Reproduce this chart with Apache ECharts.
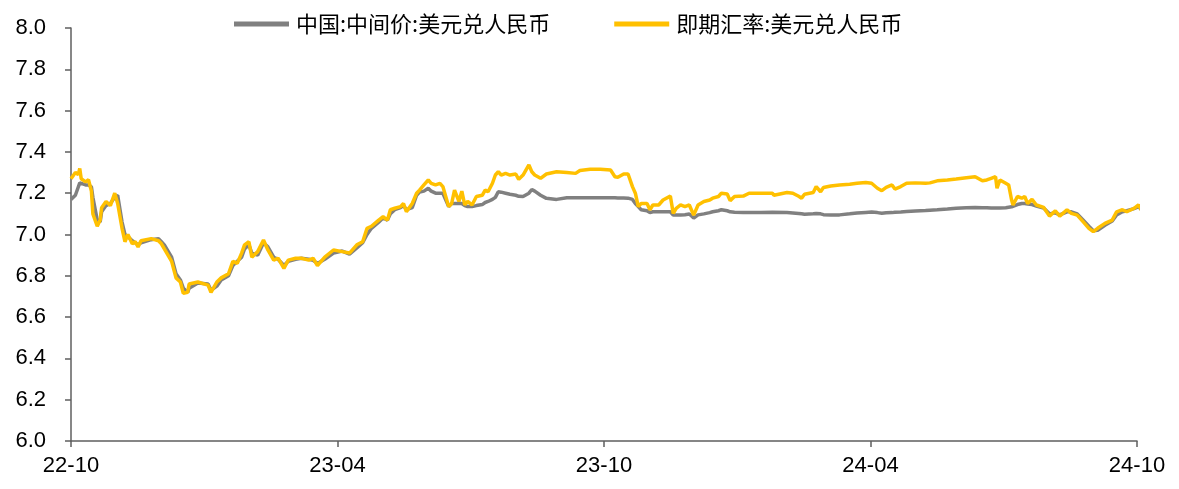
<!DOCTYPE html>
<html>
<head>
<meta charset="utf-8">
<script src="https://cdn.jsdelivr.net/npm/echarts@6/dist/echarts.min.js"></script>
<style>
html,body{margin:0;padding:0;background:#fff;}
#chart{width:1179px;height:489px;}
</style>
</head>
<body>
<div id="chart"></div>
<script>
// Day offsets from start date 2022-10-28
const startDate = '2022-10-28';
const dayOffsets = [0,3,5,6,7,10,12,14,15,18,20,21,24,27,30,32,35,37,39,42,44,46,48,55,60,62,64,69,72,75,77,80,81,87,94,96,100,103,108,111,114,117,119,122,124,128,132,135,139,142,146,149,154,158,163,166,169,174,180,186,191,196,200,203,206,211,214,217,219,222,226,228,230,234,237,239,242,245,247,250,253,255,259,261,263,266,268,270,272,275,278,282,284,286,289,291,293,295,298,301,305,307,310,314,316,318,322,326,333,340,346,349,356,363,370,373,375,379,382,385,387,389,391,395,397,399,403,406,411,413,415,418,421,424,427,430,434,438,440,444,446,450,452,455,461,465,473,481,482,491,495,499,501,503,509,511,514,516,521,527,534,539,545,549,553,556,559,563,565,569,573,579,586,589,594,601,607,614,620,625,628,631,634,635,637,641,643,645,646,649,652,654,656,659,662,667,671,675,678,683,686,690,694,698,701,704,709,714,717,721,724,729,732,734];
const spotRate = [7.27,7.30,7.29,7.32,7.27,7.255,7.265,7.21,7.10,7.04,7.07,7.13,7.16,7.14,7.20,7.15,7.03,6.965,7.00,6.955,6.965,6.94,6.97,6.98,6.97,6.955,6.93,6.87,6.79,6.77,6.715,6.72,6.76,6.77,6.755,6.72,6.77,6.79,6.81,6.87,6.86,6.91,6.95,6.965,6.89,6.917,6.973,6.925,6.876,6.885,6.836,6.876,6.885,6.885,6.876,6.885,6.85,6.89,6.925,6.917,6.91,6.95,6.965,7.03,7.04,7.07,7.086,7.07,7.12,7.127,7.135,7.15,7.11,7.15,7.20,7.215,7.24,7.264,7.248,7.24,7.248,7.232,7.135,7.15,7.215,7.16,7.21,7.143,7.16,7.143,7.184,7.19,7.215,7.207,7.248,7.288,7.304,7.288,7.296,7.288,7.293,7.267,7.288,7.337,7.304,7.288,7.272,7.293,7.304,7.30,7.296,7.31,7.316,7.316,7.312,7.28,7.277,7.293,7.293,7.232,7.20,7.135,7.15,7.15,7.12,7.143,7.143,7.167,7.186,7.102,7.127,7.143,7.135,7.143,7.094,7.143,7.16,7.167,7.176,7.184,7.20,7.196,7.164,7.184,7.186,7.20,7.20,7.20,7.19,7.203,7.20,7.185,7.176,7.195,7.203,7.232,7.207,7.228,7.235,7.24,7.243,7.248,7.252,7.248,7.224,7.212,7.228,7.24,7.22,7.232,7.248,7.25,7.248,7.25,7.26,7.264,7.269,7.275,7.28,7.26,7.264,7.272,7.28,7.224,7.264,7.248,7.24,7.167,7.143,7.184,7.176,7.184,7.15,7.17,7.143,7.131,7.089,7.115,7.089,7.12,7.102,7.094,7.062,7.03,7.014,7.03,7.054,7.07,7.11,7.12,7.11,7.127,7.143,7.12];
const midRate = [7.17,7.19,7.23,7.25,7.25,7.24,7.24,7.23,7.18,7.07,7.06,7.11,7.14,7.15,7.18,7.19,7.06,7.00,6.99,6.97,6.96,6.95,6.96,6.975,6.98,6.965,6.95,6.89,6.81,6.78,6.74,6.72,6.74,6.765,6.76,6.73,6.75,6.78,6.80,6.85,6.87,6.89,6.93,6.95,6.91,6.90,6.96,6.94,6.89,6.88,6.85,6.87,6.88,6.885,6.88,6.875,6.86,6.88,6.91,6.92,6.905,6.935,6.96,7.00,7.03,7.06,7.08,7.07,7.10,7.12,7.13,7.14,7.12,7.13,7.19,7.205,7.21,7.224,7.21,7.20,7.20,7.20,7.135,7.15,7.15,7.15,7.15,7.14,7.135,7.135,7.14,7.145,7.155,7.16,7.17,7.18,7.207,7.205,7.20,7.195,7.19,7.185,7.184,7.20,7.218,7.21,7.19,7.175,7.17,7.178,7.178,7.178,7.178,7.178,7.178,7.178,7.177,7.177,7.176,7.17,7.15,7.135,7.12,7.115,7.106,7.11,7.11,7.11,7.11,7.094,7.095,7.094,7.096,7.099,7.08,7.095,7.10,7.106,7.11,7.115,7.12,7.115,7.11,7.108,7.106,7.106,7.106,7.108,7.11,7.106,7.104,7.102,7.10,7.098,7.10,7.102,7.10,7.096,7.095,7.095,7.10,7.104,7.107,7.109,7.106,7.103,7.105,7.106,7.108,7.109,7.111,7.114,7.116,7.118,7.12,7.123,7.127,7.13,7.131,7.13,7.13,7.128,7.128,7.127,7.128,7.13,7.132,7.134,7.135,7.145,7.15,7.15,7.148,7.145,7.138,7.128,7.10,7.105,7.095,7.11,7.11,7.10,7.07,7.04,7.018,7.02,7.045,7.065,7.095,7.11,7.115,7.125,7.135,7.12];
const xTickLabels = ['22-10','23-04','23-10','24-04','24-10'];
const seriesNames = ['中国:中间价:美元兑人民币','即期汇率:美元兑人民币'];

const X_SPAN = 731, X_STEP = 182.75;
const pair = (vals) => dayOffsets.map((d, i) => [d, vals[i]]);

const chart = echarts.init(document.getElementById('chart'), null, {renderer: 'canvas'});
chart.setOption({
  animation: false,
  backgroundColor: '#fff',
  legend: {
    top: 8, left: 229,
    itemWidth: 55, itemHeight: 5, itemGap: 64,
    icon: 'rect',
    textStyle: {fontFamily: '"Noto Sans CJK SC", sans-serif', fontSize: 22, color: '#000', padding: [0,0,0,2]},
    data: seriesNames
  },
  grid: {left: 71, right: 42, top: 28, bottom: 48},
  xAxis: {
    type: 'value', min: 0, max: X_SPAN, interval: X_STEP,
    axisLine: {show: true, lineStyle: {color: '#5f5f5f', width: 1.5}},
    axisTick: {show: true, length: 6, lineStyle: {color: '#5f5f5f', width: 1.5}},
    splitLine: {show: false},
    axisLabel: {
      margin: 14, color: '#000', fontSize: 22, fontFamily: '"Liberation Sans", Arial, sans-serif',
      formatter: (v) => xTickLabels[Math.round(v / X_STEP)] || ''
    }
  },
  yAxis: {
    type: 'value', min: 6, max: 8, interval: 0.2,
    axisLine: {show: true, lineStyle: {color: '#5f5f5f', width: 1.5}},
    axisTick: {show: true, length: 6, lineStyle: {color: '#5f5f5f', width: 1.5}},
    splitLine: {show: false},
    axisLabel: {
      margin: 25, color: '#000', fontSize: 22, fontFamily: '"Liberation Sans", Arial, sans-serif',
      formatter: (v) => v.toFixed(1)
    }
  },
  series: [
    {name: seriesNames[0], type: 'line', data: pair(midRate), showSymbol: false, clip: false,
     lineStyle: {color: '#808080', width: 3.5}, itemStyle: {color: '#808080'}},
    {name: seriesNames[1], type: 'line', data: pair(spotRate), showSymbol: false, clip: false,
     lineStyle: {color: '#FFC000', width: 3.5}, itemStyle: {color: '#FFC000'}}
  ]
});
</script>
</body>
</html>
